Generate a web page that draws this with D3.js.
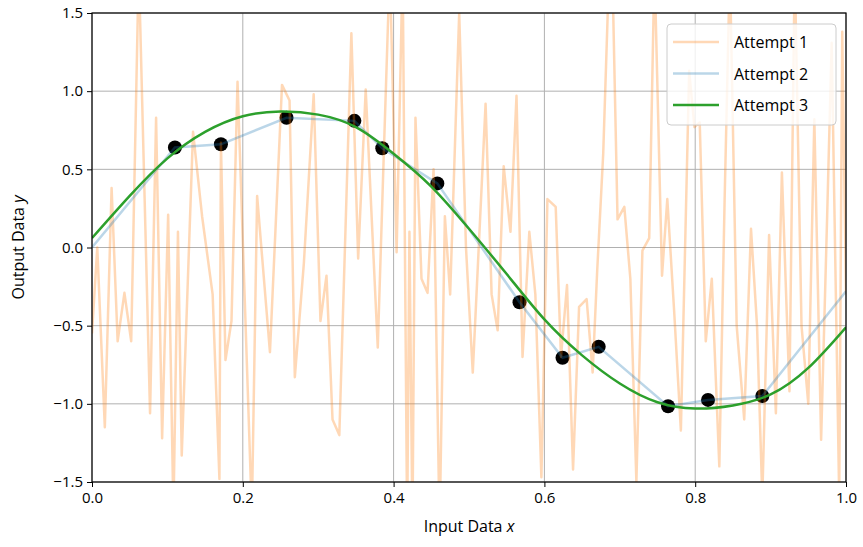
<!DOCTYPE html>
<html>
<head>
<meta charset="utf-8">
<script src="https://cdn.jsdelivr.net/npm/d3@7"></script>
<style>
  body { margin: 0; background: #fff; }
  text { font-family: "Open Sans", "Noto Sans", sans-serif; }
</style>
</head>
<body>
<div id="chart"></div>
<script>
// observed data points (black dots)
const pointsX = [0.110, 0.171, 0.258, 0.348, 0.385, 0.458, 0.567, 0.624, 0.672, 0.764, 0.817, 0.889];
const pointsY = [0.64, 0.66, 0.83, 0.81, 0.635, 0.41, -0.35, -0.705, -0.635, -1.015, -0.975, -0.95];

// Attempt 1: noisy line (vertices)
const attempt1X = [0.000, 0.007, 0.017, 0.026, 0.034, 0.043, 0.052, 0.062, 0.077, 0.085, 0.093, 0.101,
  0.108, 0.114, 0.119, 0.134, 0.146, 0.160, 0.169, 0.171, 0.177, 0.185, 0.193, 0.212, 0.219, 0.236,
  0.252, 0.262, 0.269, 0.281, 0.294, 0.303, 0.311, 0.319, 0.328, 0.344, 0.353, 0.363, 0.379, 0.387,
  0.395, 0.404, 0.412, 0.418, 0.421, 0.425, 0.429, 0.437, 0.445, 0.453, 0.461, 0.468, 0.475, 0.487,
  0.496, 0.505, 0.522, 0.530, 0.538, 0.546, 0.555, 0.563, 0.571, 0.580, 0.588, 0.596, 0.604, 0.615,
  0.622, 0.630, 0.638, 0.646, 0.656, 0.664, 0.670, 0.678, 0.686, 0.690, 0.697, 0.706, 0.714, 0.722,
  0.730, 0.739, 0.746, 0.756, 0.763, 0.772, 0.781, 0.792, 0.799, 0.806, 0.814, 0.822, 0.832, 0.839,
  0.846, 0.855, 0.865, 0.874, 0.882, 0.889, 0.898, 0.907, 0.915, 0.925, 0.932, 0.941, 0.950, 0.958,
  0.967, 0.975, 0.981, 0.991, 0.995, 1.000];
const attempt1Y = [-0.55, 0.00, -1.15, 0.38, -0.60, -0.29, -0.60, 1.80, -1.06, 0.83, -1.22, 0.21,
  -1.70, 0.10, -1.33, 0.74, 0.20, -0.30, -1.48, 0.67, -0.72, -0.47, 1.06, -1.70, 0.33, -0.67,
  1.04, 0.94, -0.83, -0.10, 0.98, -0.47, -0.18, -1.10, -1.20, 1.37, -0.07, 1.01, -0.64, 0.60,
  1.80, -0.03, 1.80, -1.80, 0.10, -1.80, 0.83, -0.20, -0.29, 0.50, -1.80, 0.20, -0.30, 1.50,
  0.00, -0.80, 0.92, -0.30, -0.53, 0.52, 0.10, 0.97, -0.70, 0.10, -0.30, -1.47, 0.31, 0.26,
  -0.70, -0.24, -1.42, -0.38, -0.33, -0.80, -0.15, 0.60, 1.80, 1.80, 0.18, 0.26, -0.20, -1.50,
  -0.02, 0.06, 1.80, -0.18, 0.31, -0.40, -1.17, 1.13, 0.77, 0.80, -0.60, -0.20, -1.40, 0.30,
  1.80, -0.50, -1.10, 0.12, -0.50, -1.60, 0.08, -1.06, 0.48, -0.92, 1.80, -0.50, -1.00, 0.82,
  -1.23, 0.20, 1.31, -1.60, 1.38, -0.30];

// Attempt 2: straight segments through the points
const attempt2X = [0.000, ...pointsX, 1.000];
const attempt2Y = [0.00, ...pointsY, -0.28];

// Attempt 3: smooth fit
const attempt3X = [0, 0.05, 0.1, 0.15, 0.2, 0.25, 0.3, 0.35, 0.4, 0.45, 0.5, 0.55, 0.6, 0.65, 0.7, 0.75, 0.8, 0.85, 0.9, 0.95, 1.0];
const attempt3Y = [0.06, 0.33, 0.57, 0.74, 0.84, 0.87, 0.85, 0.77, 0.60, 0.39, 0.12, -0.17, -0.46, -0.69, -0.87, -0.99, -1.03, -1.01, -0.94, -0.77, -0.51];

const xTicks = [0, 0.2, 0.4, 0.6, 0.8, 1.0];
const yTicks = [-1.5, -1.0, -0.5, 0.0, 0.5, 1.0, 1.5];
const seriesNames = ['Attempt 1', 'Attempt 2', 'Attempt 3'];

const margin = {top: 13, right: 17, bottom: 65, left: 92};
const width = 863 - margin.left - margin.right;
const height = 547 - margin.top - margin.bottom;

const svg = d3.select('#chart')
  .append('svg')
    .attr('width', 863)
    .attr('height', 547)
  .append('g')
    .attr('transform', 'translate(' + margin.left + ',' + margin.top + ')');

const x = d3.scaleLinear().domain([0, 1]).range([0, width]);
const y = d3.scaleLinear().domain([-1.5, 1.5]).range([height, 0]);

// grid
svg.append('g')
  .selectAll('line')
  .data(xTicks)
  .join('line')
    .attr('x1', d => x(d)).attr('x2', d => x(d))
    .attr('y1', 0).attr('y2', height)
    .attr('stroke', '#b0b0b0').attr('stroke-width', 1);
svg.append('g')
  .selectAll('line')
  .data(yTicks)
  .join('line')
    .attr('x1', 0).attr('x2', width)
    .attr('y1', d => y(d)).attr('y2', d => y(d))
    .attr('stroke', '#b0b0b0').attr('stroke-width', 1);

svg.append('clipPath').attr('id', 'clip')
  .append('rect').attr('width', width).attr('height', height);

const plot = svg.append('g').attr('clip-path', 'url(#clip)');

// data points
plot.selectAll('circle')
  .data(pointsX)
  .join('circle')
    .attr('cx', d => x(d))
    .attr('cy', (d, i) => y(pointsY[i]))
    .attr('r', 7)
    .attr('fill', '#000');

const line = d3.line()
  .x(d => x(d[0]))
  .y(d => y(d[1]));

plot.append('path')
  .datum(attempt1X.map((v, i) => [v, attempt1Y[i]]))
  .attr('d', line)
  .attr('fill', 'none')
  .attr('stroke', '#ff7f0e')
  .attr('stroke-opacity', 0.3)
  .attr('stroke-width', 2.5)
  .attr('stroke-linejoin', 'round');

plot.append('path')
  .datum(attempt2X.map((v, i) => [v, attempt2Y[i]]))
  .attr('d', line)
  .attr('fill', 'none')
  .attr('stroke', '#1f77b4')
  .attr('stroke-opacity', 0.3)
  .attr('stroke-width', 2.5);

plot.append('path')
  .datum(attempt3X.map((v, i) => [v, attempt3Y[i]]))
  .attr('d', line.curve(d3.curveNatural))
  .attr('fill', 'none')
  .attr('stroke', '#2ca02c')
  .attr('stroke-width', 2.5);

// axes
const xAxis = svg.append('g')
  .attr('transform', 'translate(0,' + height + ')')
  .call(d3.axisBottom(x).tickValues(xTicks).tickFormat(d3.format('.1f')).tickSize(5).tickPadding(5));
const yAxis = svg.append('g')
  .call(d3.axisLeft(y).tickValues(yTicks).tickFormat(d => d3.format('.1f')(d).replace('-', '\u2212')).tickSize(5).tickPadding(4));
[xAxis, yAxis].forEach(a => {
  a.selectAll('text').attr('font-size', 15).attr('fill', '#000')
    .style('font-family', '"Open Sans", sans-serif');
  a.select('.domain').remove();
  a.selectAll('.tick line').attr('stroke', '#000').attr('stroke-width', 1);
});

// frame
svg.append('rect')
  .attr('width', width).attr('height', height)
  .attr('fill', 'none').attr('stroke', '#000').attr('stroke-width', 1.2);

// axis labels
const xl = svg.append('text')
  .attr('x', width / 2).attr('y', height + 50)
  .attr('text-anchor', 'middle').attr('font-size', 16);
xl.append('tspan').text('Input Data ');
xl.append('tspan').attr('font-style', 'italic').text('x');

const yl = svg.append('text')
  .attr('transform', 'translate(' + (-68) + ',' + (height / 2) + ') rotate(-90)')
  .attr('text-anchor', 'middle').attr('font-size', 16);
yl.append('tspan').text('Output Data ');
yl.append('tspan').attr('font-style', 'italic').text('y');

// legend
const legend = svg.append('g').attr('transform', 'translate(' + (width - 179) + ',11)');
legend.append('rect')
  .attr('width', 169).attr('height', 101).attr('rx', 4)
  .attr('fill', '#fff').attr('fill-opacity', 0.8)
  .attr('stroke', '#ccc').attr('stroke-width', 1);
const legendStyles = [
  {color: '#ff7f0e', opacity: 0.3},
  {color: '#1f77b4', opacity: 0.3},
  {color: '#2ca02c', opacity: 1}
];
seriesNames.forEach((name, i) => {
  const row = legend.append('g').attr('transform', 'translate(0,' + (18 + i * 31.5) + ')');
  row.append('line')
    .attr('x1', 6).attr('x2', 52)
    .attr('stroke', legendStyles[i].color)
    .attr('stroke-opacity', legendStyles[i].opacity)
    .attr('stroke-width', 2.5);
  row.append('text')
    .attr('x', 67).attr('y', 6)
    .attr('font-size', 16)
    .text(name);
});
</script>
</body>
</html>
